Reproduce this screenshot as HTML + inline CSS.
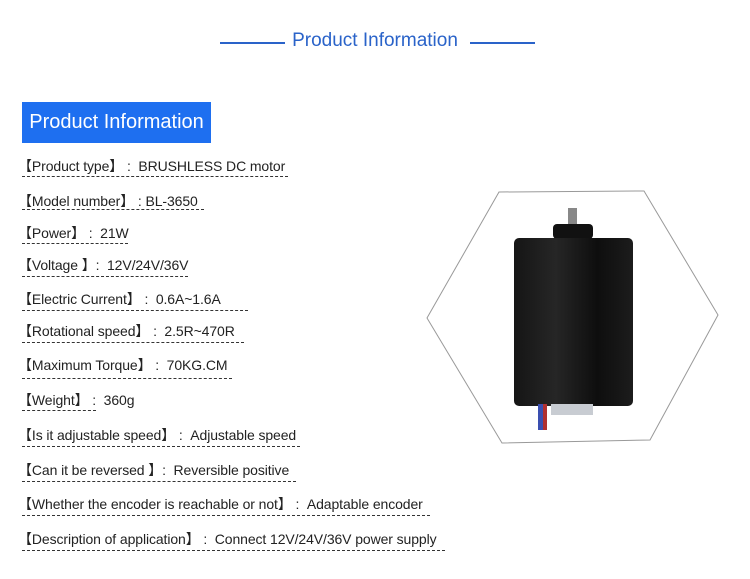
<!DOCTYPE html>
<html><head><style>
body{margin:0;width:750px;height:579px;background:#fff;position:relative;overflow:hidden;font-family:"Liberation Sans",Arial,sans-serif;}
.t{position:absolute;top:30px;left:0;width:750px;text-align:center;color:#2a63c9;font-size:19px;}
.hl{position:absolute;top:42px;height:2px;background:#2a63c9;}
.box{position:absolute;left:22px;top:102px;width:189px;height:41px;background:#1e6ff0;color:#fff;font-size:20px;line-height:41px;text-align:center;}
.r{position:absolute;left:18px;font-size:14px;color:#222;white-space:pre;letter-spacing:-0.1px;}
.d{position:absolute;left:22px;height:0;border-top:1px dashed #333;}
</style></head><body>
<div class="hl" style="left:220px;width:65px"></div>
<div class="t">Product Information</div>
<div class="hl" style="left:470px;width:65px"></div>
<div class="box">Product Information</div>

<div class="r" style="top:156px">【Product type】 :  BRUSHLESS DC motor</div><div class="d" style="top:176px;width:266px"></div>
<div class="r" style="top:191px">【Model number】 : BL-3650</div><div class="d" style="top:209px;width:182px"></div>
<div class="r" style="top:223px">【Power】 :  21W</div><div class="d" style="top:243px;width:106px"></div>
<div class="r" style="top:255px">【Voltage 】:  12V/24V/36V</div><div class="d" style="top:276px;width:166px"></div>
<div class="r" style="top:289px">【Electric Current】 :  0.6A~1.6A</div><div class="d" style="top:310px;width:226px"></div>
<div class="r" style="top:321px">【Rotational speed】 :  2.5R~470R</div><div class="d" style="top:342px;width:222px"></div>
<div class="r" style="top:355px">【Maximum Torque】 :  70KG.CM</div><div class="d" style="top:378px;width:210px"></div>
<div class="r" style="top:390px">【Weight】 :  360g</div><div class="d" style="top:410px;width:74px"></div>
<div class="r" style="top:425px">【Is it adjustable speed】 :  Adjustable speed</div><div class="d" style="top:446px;width:278px"></div>
<div class="r" style="top:460px">【Can it be reversed 】:  Reversible positive</div><div class="d" style="top:481px;width:274px"></div>
<div class="r" style="top:494px">【Whether the encoder is reachable or not】 :  Adaptable encoder</div><div class="d" style="top:515px;width:408px"></div>
<div class="r" style="top:529px">【Description of application】 :  Connect 12V/24V/36V power supply</div><div class="d" style="top:550px;width:423px"></div>

<svg style="position:absolute;left:0;top:0" width="750" height="579">
<defs><linearGradient id="g" x1="0" x2="1"><stop offset="0" stop-color="#151515"/><stop offset="0.35" stop-color="#262626"/><stop offset="0.7" stop-color="#0e0e0e"/><stop offset="1" stop-color="#1c1c1c"/></linearGradient></defs>
<polygon points="499,192 644,191 718,315 650,440 502,443 427,318" fill="none" stroke="#999" stroke-width="1"/>
<rect x="568" y="208" width="9" height="18" fill="#888"/>
<rect x="553" y="224" width="40" height="15" rx="4" fill="#111"/>
<rect x="514" y="238" width="119" height="168" rx="5" fill="url(#g)"/>
<rect x="551" y="404" width="42" height="11" fill="#c8ccd2"/>
<rect x="538" y="404" width="5" height="26" fill="#3a4fb0"/>
<rect x="543" y="404" width="4" height="26" fill="#b03030"/>
</svg>
</body></html>
